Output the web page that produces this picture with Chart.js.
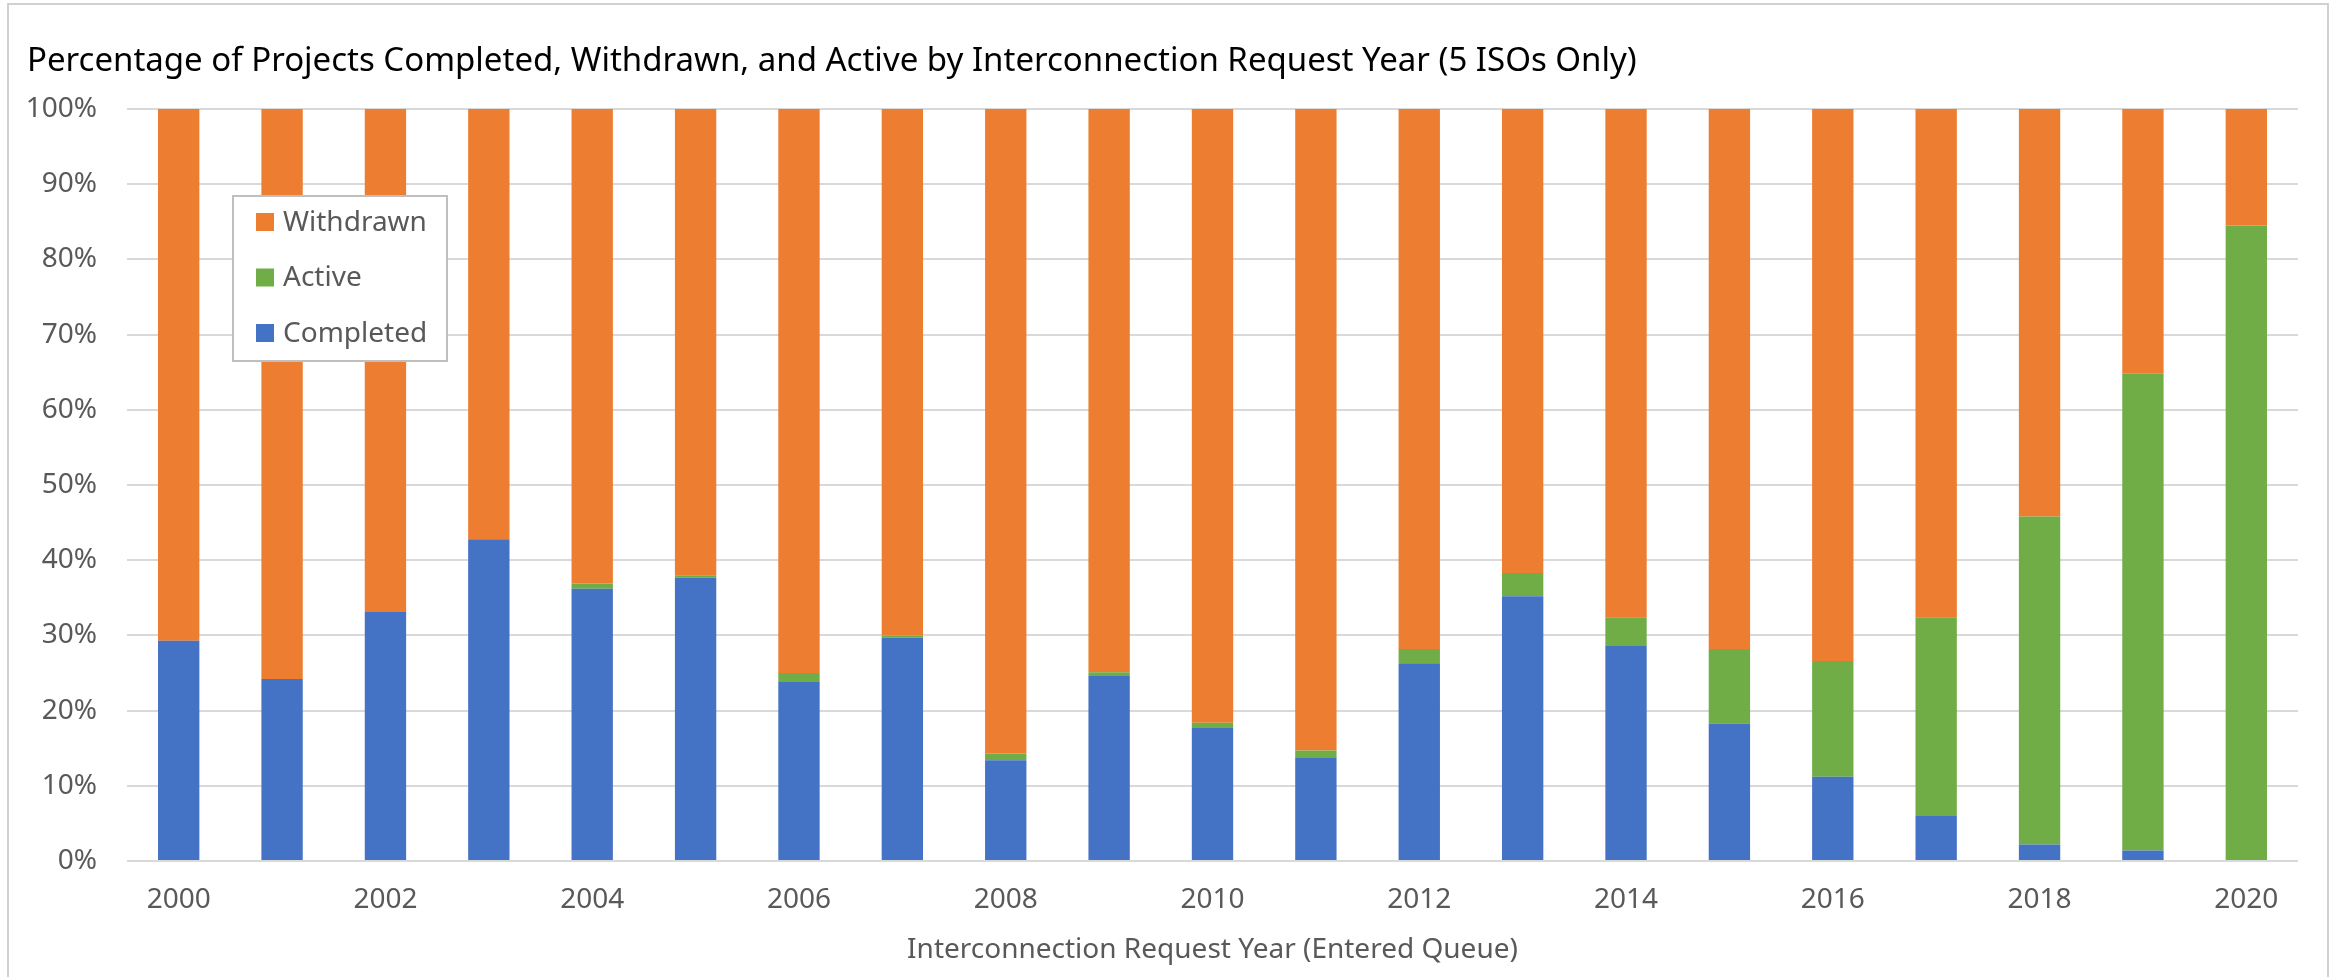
<!DOCTYPE html>
<html>
<head>
<meta charset="utf-8">
<script src="https://cdn.jsdelivr.net/npm/chart.js@4"></script>
<style>
  html, body { margin: 0; padding: 0; background: #fff; }
  #wrap { width: 2338px; height: 977px; }
</style>
</head>
<body>
<div id="wrap"><canvas id="myChart" width="2338" height="977"></canvas></div>
<script>
// Data (percent of projects)
var years = ["2000", "2001", "2002", "2003", "2004", "2005", "2006", "2007", "2008", "2009", "2010",
  "2011", "2012", "2013", "2014", "2015", "2016", "2017", "2018", "2019", "2020"];
var completed = [29.3, 24.2, 33.1, 42.8, 36.2, 37.7, 23.8, 29.7, 13.4, 24.6, 17.7,
  13.7, 26.3, 35.2, 28.6, 18.3, 11.2, 6.0, 2.2, 1.4, 0];
var active = [0, 0, 0, 0, 0.7, 0.3, 1.2, 0.3, 0.9, 0.5, 0.7,
  1.0, 1.9, 3.1, 3.8, 9.9, 15.4, 26.4, 43.6, 63.4, 84.5];
var withdrawn = [70.7, 75.8, 66.9, 57.2, 63.1, 62.0, 75.0, 70.0, 85.7, 74.9, 81.6,
  85.3, 71.8, 61.7, 67.6, 71.8, 73.4, 67.6, 54.2, 35.2, 15.5];
var yTicks = [0, 10, 20, 30, 40, 50, 60, 70, 80, 90, 100];

var FONT = "'Noto Sans', 'Open Sans', sans-serif";
var GREY = "#595959";

// outer frame like the Excel chart area
var framePlugin = {
  id: "frame",
  beforeDraw: function (c) {
    var g = c.ctx;
    g.save();
    g.fillStyle = "#fff";
    g.fillRect(0, 0, c.width, c.height);
    g.strokeStyle = "#d0d0d0";
    g.lineWidth = 2;
    g.strokeRect(8, 4, 2320, 1000);
    g.restore();
  },
};

// boxed legend inside the plot, listed top-down in stack order
var boxLegend = {
  id: "boxLegend",
  afterDraw: function (c) {
    var g = c.ctx;
    var a = c.chartArea;
    var x = a.left + 106, y = a.top + 87, w = 214, h = 165;
    g.save();
    g.fillStyle = "#fff";
    g.fillRect(x, y, w, h);
    g.strokeStyle = "#bfbfbf";
    g.lineWidth = 2;
    g.strokeRect(x, y, w, h);
    var sets = c.data.datasets.slice().reverse();
    g.font = "28px " + FONT;
    g.textBaseline = "middle";
    sets.forEach(function (ds, i) {
      var cy = y + 26 + i * 55.5;
      g.fillStyle = ds.backgroundColor;
      g.fillRect(x + 23, cy - 9, 18, 18);
      g.fillStyle = GREY;
      g.fillText(ds.label, x + 50, cy + 1);
    });
    g.restore();
  },
};

var ctx = document.getElementById("myChart").getContext("2d");
var chart = new Chart(ctx, {
  type: "bar",
  data: {
    labels: years,
    datasets: [
      { label: "Completed", data: completed, backgroundColor: "#4472C4" },
      { label: "Active", data: active, backgroundColor: "#70AD47" },
      { label: "Withdrawn", data: withdrawn, backgroundColor: "#ED7D31" },
    ],
  },
  options: {
    responsive: false,
    animation: false,
    layout: { padding: { left: 27, right: 40, top: 0, bottom: 0 } },
    datasets: { bar: { barPercentage: 0.4, categoryPercentage: 1.0 } },
    plugins: {
      legend: { display: false },
      tooltip: { enabled: false },
      title: {
        display: true,
        text: "Percentage of Projects Completed, Withdrawn, and Active by Interconnection Request Year (5 ISOs Only)",
        align: "start",
        color: "#000",
        font: { family: FONT, size: 33, weight: "normal", lineHeight: 1.2 },
        padding: { top: 42, bottom: 27.4 },
      },
    },
    scales: {
      x: {
        stacked: true,
        grid: { display: false, drawTicks: false },
        border: { display: false },
        ticks: {
          autoSkip: false,
          maxRotation: 0,
          padding: 22,
          color: GREY,
          font: { family: FONT, size: 28 },
          callback: function (v, i) {
            return i % 2 === 0 ? years[i] : "";
          },
        },
        title: {
          display: true,
          text: "Interconnection Request Year (Entered Queue)",
          color: GREY,
          font: { family: FONT, size: 28 },
          padding: { top: 0, bottom: 10 },
        },
        afterFit: function (s) { s.height = 116; },
      },
      y: {
        stacked: true,
        min: 0,
        max: 100,
        afterBuildTicks: function (s) {
          s.ticks = yTicks.map(function (v) { return { value: v }; });
        },
        grid: { color: "#d9d9d9", lineWidth: 2, drawTicks: false },
        border: { display: false },
        ticks: {
          padding: 30,
          color: GREY,
          font: { family: FONT, size: 28 },
          callback: function (v) { return v + "%"; },
        },
        afterFit: function (s) { s.width = 100; },
      },
    },
  },
  plugins: [framePlugin, boxLegend],
});
</script>
</body>
</html>
